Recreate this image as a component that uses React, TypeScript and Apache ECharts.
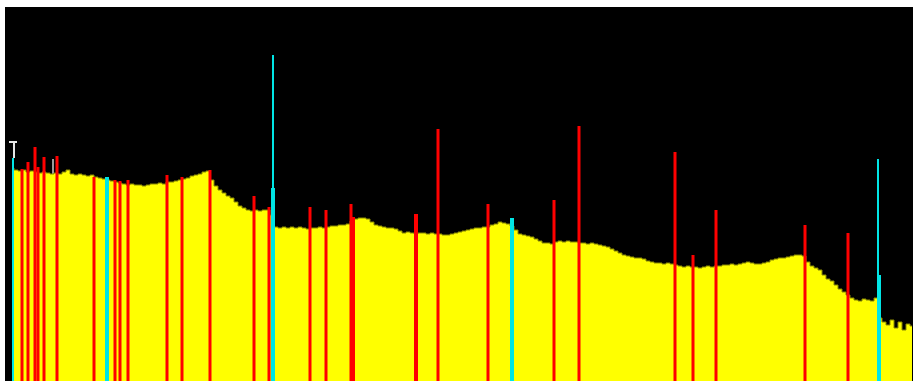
import React, { useEffect, useRef } from "react";
import * as echarts from "echarts";

// Channel axis spans 5..913, count axis 0..374 (arbitrary units)
const channelMin = 5;
const channelMax = 913;
const countMax = 374;

// Continuum (yellow) sampled every 4 channels starting at channel 12
const continuumStart = 12;
const continuumStep = 4;
const continuum = [
  213, 211, 210, 211, 209, 210, 209, 208, 209, 208, 207, 208, 207, 209, 211, 207, 206, 207, 206, 205,
  206, 204, 203, 202, 201, 200, 199, 198, 197, 196, 197, 196, 196, 195, 196, 197, 197, 198, 197, 199,
  199, 200, 201, 202, 203, 205, 206, 207, 209, 210, 201, 195, 191, 188, 185, 183, 179, 175, 173, 171,
  170, 171, 170, 171, 171, 166, 154, 153, 154, 153, 154, 153, 154, 153, 152, 153, 153, 154, 153, 154,
  155, 155, 156, 156, 157, 160, 162, 163, 163, 162, 159, 156, 155, 154, 153, 153, 152, 150, 148, 149,
  148, 147, 148, 148, 147, 148, 147, 147, 146, 146, 147, 148, 149, 150, 151, 152, 153, 153, 154, 154,
  156, 157, 159, 158, 157, 155, 151, 147, 146, 145, 144, 142, 140, 138, 138, 137, 139, 140, 139, 140,
  139, 139, 138, 138, 137, 138, 137, 136, 135, 134, 132, 130, 128, 126, 125, 124, 123, 123, 122, 120,
  119, 118, 118, 117, 118, 117, 116, 115, 114, 115, 114, 114, 113, 114, 115, 114, 115, 115, 116, 116,
  117, 116, 117, 118, 119, 118, 117, 117, 118, 119, 121, 122, 123, 123, 124, 125, 126, 126, 125, 119,
  115, 113, 111, 106, 102, 100, 96, 92, 89, 86, 83, 81, 80, 82, 81, 80, 83, 63, 59, 56,
  61, 53, 59, 51, 57, 55,
];

// Red lines: channel, peak count, drawn width
const redChannels = [22, 28, 35, 38, 44, 57, 94, 115, 120, 128, 167, 182, 210, 254, 269, 310, 326, 351, 353, 416, 438, 488, 554, 579, 675, 693, 716, 805, 848];
const redPeaks = [212, 219, 234, 214, 224, 225, 204, 201, 200, 201, 206, 204, 211, 185, 174, 174, 171, 177, 164, 167, 252, 177, 181, 255, 229, 126, 171, 156, 148];
const redWidths = [3, 3, 3, 3, 3, 3, 3, 3, 3, 3, 3, 3, 3, 3, 3, 3, 3, 3, 4, 4, 3, 3, 3, 3, 3, 3, 3, 3, 3];

// Cyan lines
const cyanChannels = [13, 107, 273, 273, 512, 878, 879];
const cyanPeaks = [223, 204, 326, 193, 163, 222, 106];
const cyanWidths = [2, 4, 2, 4, 4, 2, 4];

// Gray line behind the continuum
const grayChannels = [53];
const grayPeaks = [222];
const grayWidths = [2];

// White marker: channel, low, high, width
const markerChannels = [14, 13];
const markerLows = [223, 238];
const markerHighs = [238, 240];
const markerWidths = [2, 8];

function rectSeries(name: string, data: number[][], color: string, z: number) {
  return {
    type: "custom",
    name,
    z,
    silent: true,
    encode: { x: 0, y: [1, 2] },
    data,
    renderItem: (_params: any, api: any) => {
      const x = api.value(0);
      const lo = api.value(1);
      const hi = api.value(2);
      const w = api.value(3);
      const pLo = api.coord([x, lo]);
      const pHi = api.coord([x, hi]);
      return {
        type: "rect",
        shape: { x: pLo[0] - w / 2, y: pHi[1], width: w, height: pLo[1] - pHi[1] },
        style: { fill: color },
      };
    },
  };
}

export default function App() {
  const ref = useRef<HTMLDivElement>(null);
  useEffect(() => {
    if (!ref.current) return;
    const chart = echarts.init(ref.current, undefined, { renderer: "svg" });
    const continuumData = continuum.map((v, i) => [continuumStart + i * continuumStep, v]);
    const red = redChannels.map((c, i) => [c, 0, redPeaks[i], redWidths[i]]);
    const cyan = cyanChannels.map((c, i) => [c, 0, cyanPeaks[i], cyanWidths[i]]);
    const gray = grayChannels.map((c, i) => [c, 0, grayPeaks[i], grayWidths[i]]);
    const marker = markerChannels.map((c, i) => [c, markerLows[i], markerHighs[i], markerWidths[i]]);
    chart.setOption({
      animation: false,
      backgroundColor: "#ffffff",
      grid: {
        left: 5,
        top: 7,
        right: 0,
        bottom: 0,
        show: true,
        backgroundColor: "#000000",
        borderWidth: 0,
      },
      xAxis: {
        type: "value",
        min: channelMin,
        max: channelMax,
        show: false,
        splitLine: { show: false },
      },
      yAxis: {
        type: "value",
        min: 0,
        max: countMax,
        show: false,
        splitLine: { show: false },
      },
      series: [
        rectSeries("gray", gray, "#9a9a9a", 1),
        {
          type: "line",
          name: "continuum",
          z: 2,
          step: "middle",
          symbol: "none",
          silent: true,
          data: continuumData,
          lineStyle: { color: "#8a8a00", width: 1 },
          areaStyle: { color: "#ffff00", opacity: 1, origin: "start" },
        },
        rectSeries("red", red, "#ff0000", 3),
        rectSeries("cyan", cyan, "#00e5e5", 3),
        rectSeries("marker", marker, "#e6e6e6", 4),
      ],
    });
    return () => chart.dispose();
  }, []);
  return (
    <div
      ref={ref}
      style={{ position: "fixed", left: 0, top: 0, width: 913, height: 381, background: "#fff" }}
    />
  );
}
